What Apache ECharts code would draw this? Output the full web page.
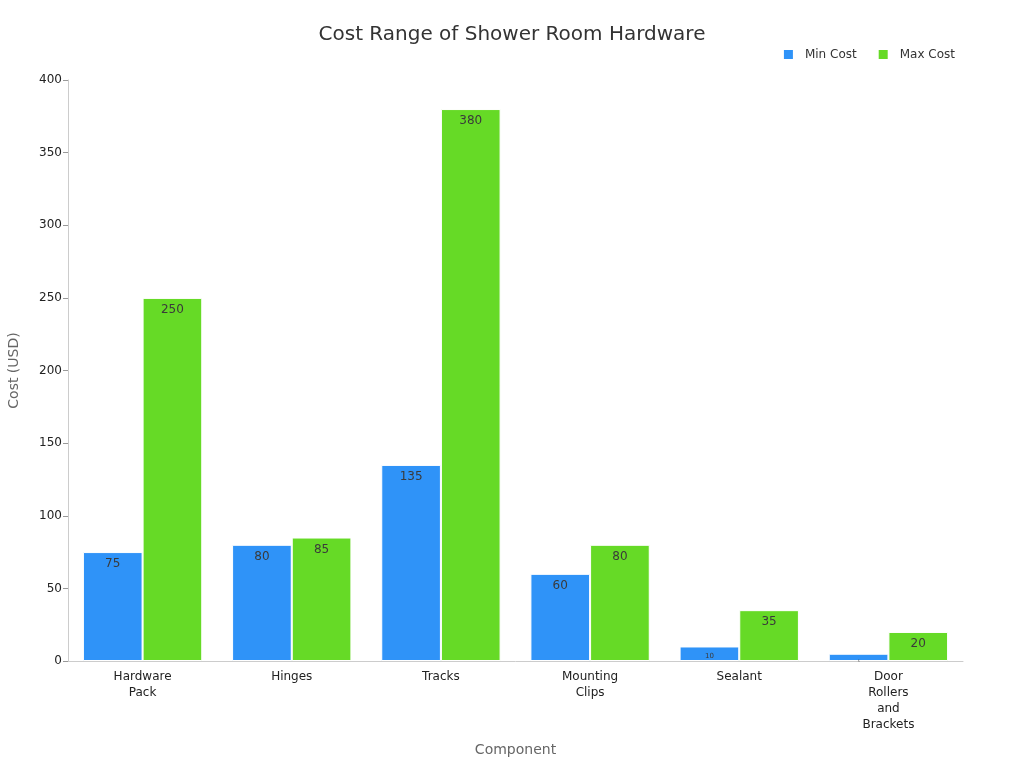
<!DOCTYPE html>
<html lang="en">
<head>
    <meta charset="UTF-8">
    <title>Cost Range of Shower Room Hardware</title>
    <script src="https://cdn.jsdelivr.net/npm/echarts@6/dist/echarts.min.js"></script>
    <style>
        html, body { margin: 0; padding: 0; background: #fff; }
        #main { width: 1024px; height: 768px; }
    </style>
</head>
<body>
<div id="main"></div>
<script type="text/javascript">
    var categories = ['Hardware\nPack', 'Hinges', 'Tracks', 'Mounting\nClips', 'Sealant', 'Door\nRollers\nand\nBrackets'];
    var minCost = [75, 80, 135, 60, 10, 5];
    var maxCost = [250, 85, 380, 80, 35, 20];
    var yTicks = [0, 50, 100, 150, 200, 250, 300, 350, 400];

    // short bars get a smaller label, like the reference
    function withLabels(values) {
        return values.map(function (v) {
            if (v < 8) return { value: v, label: { fontSize: 3 } };
            if (v < 15) return { value: v, label: { fontSize: 7 } };
            return v;
        });
    }

    var labelStyle = {
        show: true,
        position: 'insideTop',
        distance: 6,
        color: '#3a3a3a',
        fontSize: 12,
        fontFamily: 'DejaVu Sans'
    };

    var myChart = echarts.init(document.getElementById('main'));
    var option = {
        backgroundColor: '#ffffff',
        textStyle: { fontFamily: 'DejaVu Sans' },
        title: {
            text: 'Cost Range of Shower Room Hardware',
            left: 'center',
            top: 20,
            textStyle: { fontSize: 20, fontWeight: 'normal', color: '#333', fontFamily: 'DejaVu Sans' }
        },
        legend: {
            data: ['Min Cost', 'Max Cost'],
            right: 64,
            top: 43,
            icon: 'rect',
            itemWidth: 11,
            itemHeight: 11,
            itemGap: 20,
            textStyle: { fontSize: 12, color: '#333', padding: [0, 0, 0, 6] }
        },
        grid: { left: 68, right: 61, top: 80, bottom: 107, containLabel: false, outerBoundsMode: 'none' },
        xAxis: {
            type: 'category',
            data: categories,
            name: 'Component',
            nameLocation: 'middle',
            nameGap: 82,
            nameTextStyle: { fontSize: 14, color: '#666' },
            axisLine: { lineStyle: { color: '#ccc' } },
            axisTick: { alignWithLabel: true, lineStyle: { color: '#999' } },
            axisLabel: { color: '#222', fontSize: 12, interval: 0, lineHeight: 16 }
        },
        yAxis: {
            type: 'value',
            min: yTicks[0],
            max: yTicks[yTicks.length - 1],
            interval: 50,
            name: 'Cost (USD)',
            nameLocation: 'middle',
            nameGap: 47,
            nameTextStyle: { fontSize: 14, color: '#666' },
            axisLine: { show: true, lineStyle: { color: '#ccc' } },
            axisTick: { show: true, length: 5, lineStyle: { color: '#999' } },
            axisLabel: { color: '#222', fontSize: 12, margin: 6 },
            splitLine: { show: false }
        },
        series: [
            {
                name: 'Min Cost',
                type: 'bar',
                data: withLabels(minCost),
                barWidth: '40%',
                barGap: '0%',
                itemStyle: { color: '#2f93f8', borderColor: '#ffffff', borderWidth: 1 },
                label: labelStyle
            },
            {
                name: 'Max Cost',
                type: 'bar',
                data: withLabels(maxCost),
                barWidth: '40%',
                barGap: '0%',
                itemStyle: { color: '#66da26', borderColor: '#ffffff', borderWidth: 1 },
                label: labelStyle
            }
        ]
    };
    myChart.setOption(option);
</script>
</body>
</html>
